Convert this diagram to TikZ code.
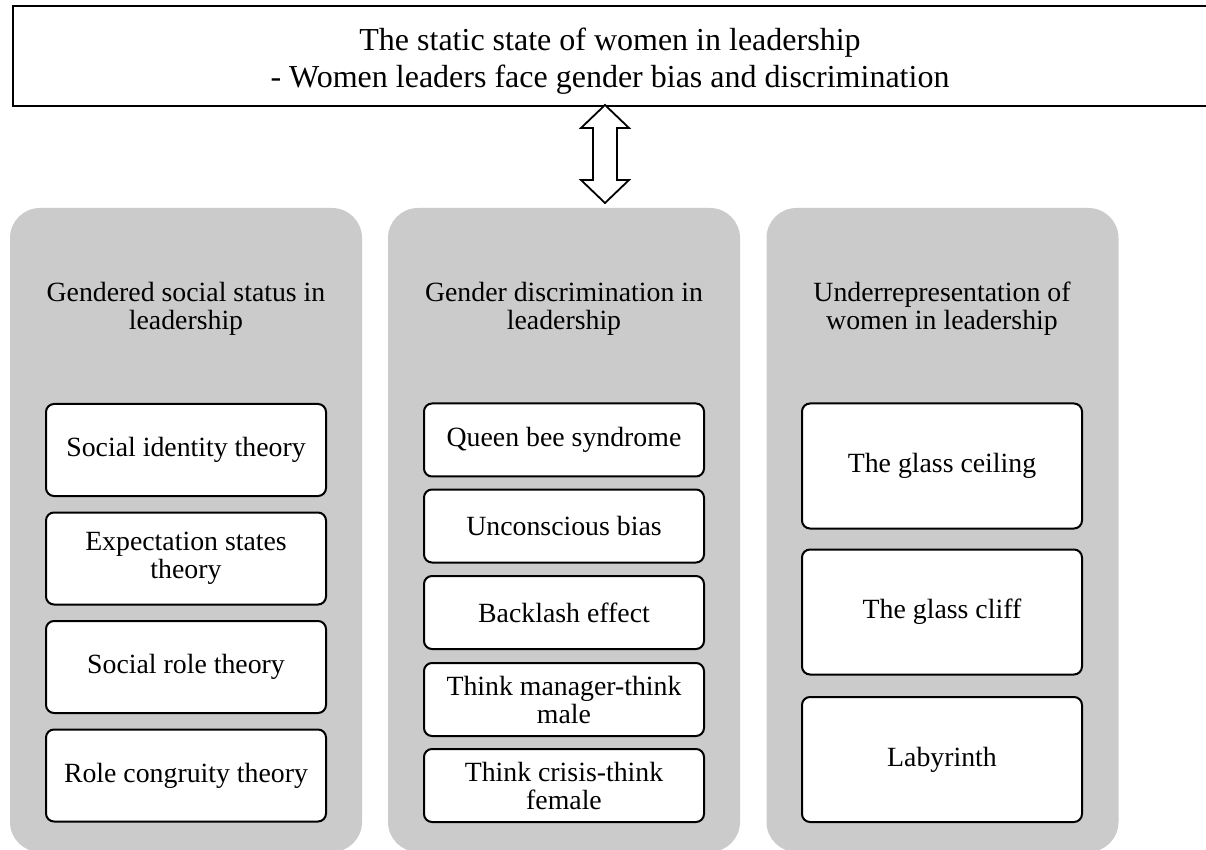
\documentclass[tikz,border=0pt]{standalone}
\usepackage{fontspec}
\setmainfont{Liberation Serif}
\usetikzlibrary{calc}
\definecolor{panelgray}{RGB}{203,203,203}
\begin{document}
\begin{tikzpicture}[x=0.5pt,y=-0.5pt,
  titleframe/.style={draw=black,line width=1pt,fill=white,inner sep=0pt},
  panel/.style={fill=panelgray,rounded corners=15pt,minimum width=176pt,minimum height=322pt,inner sep=0pt},
  heading/.style={align=center,inner sep=0pt,font=\fontsize{13.9}{14}\selectfont},
  itembox/.style={draw=black,line width=1pt,fill=white,rounded corners=4pt,
    minimum width=140pt,align=center,inner sep=0pt,font=\fontsize{13.9}{14}\selectfont},
  boxA/.style={itembox,minimum height=46pt},
  boxB/.style={itembox,minimum height=36.5pt},
  boxC/.style={itembox,minimum height=62.5pt},
  blockarrow/.style={draw=black,line width=0.9pt,fill=white,line join=miter}]
\useasboundingbox (0,0) rectangle (1206,850);

% headline frame and its text
\node[titleframe,minimum width=601pt,minimum height=50pt] (titlebox) at (614,56) {};
\node[align=center,inner sep=0pt,font=\fontsize{16}{18.5}\selectfont] (titletext) at (610,61)
  {The static state of women in leadership\\- Women leaders face gender bias and discrimination};

% three grey columns
\node[panel] (p1) at (186,530) {};
\node[panel] (p2) at (564,530) {};
\node[panel] (p3) at (942.5,530) {};

% double-headed block arrow between headline and middle column
\coordinate (atop) at (605,105);
\draw[blockarrow] (atop) -- ++(24,23) -- ++(-12,0) -- ++(0,52) -- ++(12,0) -- ++(-24,23)
  -- ++(-24,-23) -- ++(12,0) -- ++(0,-52) -- ++(-12,0) -- cycle;

% column headings
\node[heading] (h1) at (186,309) {Gendered social status in\\leadership};
\node[heading] (h2) at (564,309) {Gender discrimination in\\leadership};
\node[heading] (h3) at (942,309) {Underrepresentation of\\women in leadership};

% first column
\node[boxA] (a1) at (186,450) {Social identity theory};
\node[boxA] (a2) at (186,558.5) {Expectation states\\theory};
\node[boxA] (a3) at (186,667) {Social role theory};
\node[boxA] (a4) at (186,775.5) {Role congruity theory};

% second column
\node[boxB] (b1) at (564,440) {Queen bee syndrome};
\node[boxB] (b2) at (564,526) {Unconscious bias};
\node[boxB] (b3) at (564,612.5) {Backlash effect};
\node[boxB] (b4) at (564,699.5) {Think manager-think\\male};
\node[boxB] (b5) at (564,785.5) {Think crisis-think\\female};

% third column
\node[boxC] (c1) at (942,466) {The glass ceiling};
\node[boxC] (c2) at (942,612) {The glass cliff};
\node[boxC] (c3) at (942,759.5) {Labyrinth};
\end{tikzpicture}
\end{document}
